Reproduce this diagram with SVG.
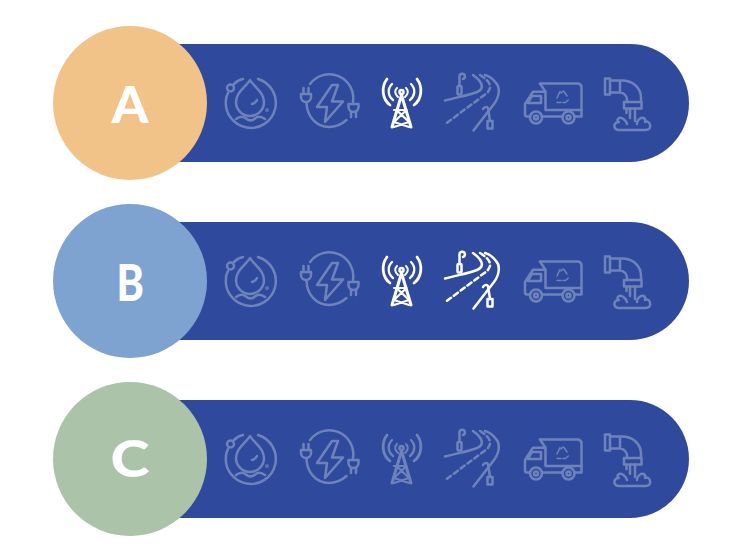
<svg xmlns="http://www.w3.org/2000/svg" width="737" height="560" viewBox="0 0 737 560">
<style>
.bar{fill:#2f4a9c}
.letter{font-family:"Lato","Open Sans",sans-serif;font-weight:900;font-size:52px;fill:#fff}
.ic{fill:none;stroke-width:2.500;stroke-linecap:round;stroke-linejoin:round}
.dim{stroke:#6f83bb}
.on{stroke:#fff}
</style>
<defs>
<path id="bar" class="bar" d="M130 44H630A59 59 0 0 1 630 162H130Z"/>
<g id="water">
<path d="M258 79A25 25 0 1 1 226 100C226 97 227 95 228 93"/>
<circle cx="230.500" cy="88" r="3.500"/>
<path d="M234 84C237 81 240 79.500 243 79"/>
<path d="M250 80C254 87 264 92 264 102A14 14 0 0 1 236 102C236 92 246 87 250 80Z"/>
<path d="M252 104C254 103.500 256 102 257 100"/>
<path d="M236 119C240 116 243 116 246 118.500C249 121 252 121 255 118.500C258 116 261 116 265 119"/>
<circle cx="267" cy="110" r="0.600"/>
</g>
<g id="power">
<path d="M310 84A24 24 0 0 1 353 102"/>
<path d="M306.500 103C307 116 316 127 329 127C336 127 342 124 346.500 120"/>
<path d="M332 85L317 107H327L325 122L343 101.500H332L338 85Z"/>
<path d="M301 94H311V97A5 5 0 0 1 301 97ZM303.500 94V88M308.500 94V88"/>
<path d="M348.500 104H358.500V107A5 5 0 0 1 348.500 107ZM351 112V117M356 112V117"/>
</g>
<g id="tower">
<path d="M387 79C381 87 382 99 390 105M417 79C423 87 422 99 414 105" stroke-width="2.800"/>
<path d="M392 84C387 89 388 96 393 100M411 84C416 89 415 96 410 100" stroke-width="2.300"/>
<path d="M397 88C394 91 395 94 398 97M406 88C409 91 408 94 405 97" stroke-width="2"/>
<circle cx="401.500" cy="92" r="2"/>
<path d="M401.500 95L392 127M401.500 95L411 127" stroke-width="3"/>
<path d="M396.500 110H406.500L394 122M406.500 110L394 110M396.500 110L409 122M394 122L409 127M409 122L394 127" stroke-width="2.200"/>
</g>
<g id="road">
<path d="M445 100.500C458 97 470 95 477 92C484 89 484 83 473 75"/>
<path d="M447 122.700L487 93C493 87 490 81 480 75" stroke-dasharray="5 3.500"/>
<path d="M473.500 130.500L494 104C500 96 500 87 496 83C493 79 489 76 485 75"/>
<path d="M459.500 86V76.500A2.700 2.700 0 1 1 463 79"/>
<rect x="457.500" y="86" width="4" height="8.500" rx="1"/>
<path d="M490 121L488 108A3 3 0 0 0 483 109"/>
<rect x="487.500" y="121" width="5" height="7.500"/>
</g>
<g id="truck">
<path d="M540 83.500H578A4 4 0 0 1 581.500 87V116.500H575M562 116.500H542M530 116.500H527A2 2 0 0 1 525 114.500V104L533 91.700H545"/>
<path d="M540 83.500L545.500 91.700V110H581.500"/>
<path d="M532 96H541V103H528Z"/>
<circle cx="536" cy="117.500" r="6"/><circle cx="536" cy="117.500" r="2"/>
<circle cx="568.500" cy="117.500" r="6"/><circle cx="568.500" cy="117.500" r="2"/>
<path d="M560 91.500L557 98M564 91.500L567 96M557 102.500H561M568.300 100L565.500 102.500H563M563 91L561 93" stroke-width="1.500"/>
</g>
<g id="pipe">
<rect x="605" y="78.500" width="5" height="16"/>
<path d="M610 80.500H622C633 80.500 641 88 641 98V102M610 92.500H620C624 92.500 627 96 627 100V102M620 80.500V92.500"/>
<path d="M624 102H641.500V108.500H624Z"/>
<path d="M630 108.500V118M635 108.500V121M626.500 109V113"/>
<path d="M627 124C626 120 622 117 619 118C617 119 617 121 619 122C615 122 614 125 614.500 127C615 129 617 130 619 130H645C649 130 651 128 650 125C650 122 647 121 645 122C646 119 644 117 641 118C639 119 637 121 637 124"/>
</g>
</defs>
<g id="connectors"></g>
<g id="row-a">
<use href="#bar"/>
<circle cx="130" cy="103" r="77" fill="#f2c388"/>
<text class="letter" x="111.500" y="123" textLength="37" lengthAdjust="spacingAndGlyphs">A</text>
<g class="ic dim"><use href="#water"/><use href="#power"/></g>
<g class="ic on"><use href="#tower"/></g>
<g class="ic dim"><use href="#road"/><use href="#truck"/><use href="#pipe"/></g>
</g>
<g id="row-b" transform="translate(0 178)">
<use href="#bar"/>
<circle cx="130" cy="103" r="77" fill="#7fa3d1"/>
<text class="letter" x="116.500" y="122.700" textLength="27.500" lengthAdjust="spacingAndGlyphs">B</text>
<g class="ic dim"><use href="#water"/><use href="#power"/></g>
<g class="ic on"><use href="#tower"/><use href="#road"/></g>
<g class="ic dim"><use href="#truck"/><use href="#pipe"/></g>
</g>
<g id="row-c" transform="translate(0 356)">
<use href="#bar"/>
<circle cx="130" cy="103" r="77" fill="#abc3a9"/>
<text class="letter" x="110.500" y="120.500" textLength="39" lengthAdjust="spacingAndGlyphs">C</text>
<g class="ic dim"><use href="#water"/><use href="#power"/><use href="#tower"/><use href="#road"/><use href="#truck"/><use href="#pipe"/></g>
</g>
</svg>
